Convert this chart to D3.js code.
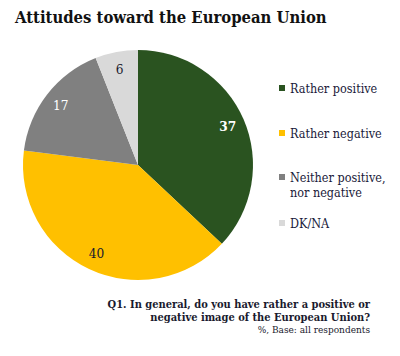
<!DOCTYPE html>
<html><head><meta charset="utf-8">
<script src="https://cdn.jsdelivr.net/npm/d3@7"></script>
<style>body{margin:0;background:#fff}svg{display:block}</style>
</head><body>
<script>
const categories = ["Rather positive", "Rather negative", "Neither positive, nor negative", "DK/NA"];
const values = [37, 40, 17, 6];
const colors = ["#2a5320", "#ffc000", "#808080", "#d9d9d9"];
const labelColors = ["#ffffff", "#1a1a2e", "#ffffff", "#1a1a2e"];
const legendLines = [["Rather positive"], ["Rather negative"], ["Neither positive,", "nor negative"], ["DK/NA"]];
const title = "Attitudes toward the European Union";
const footnote = ["Q1. In general, do you have rather a positive or", "negative image of the European Union?", "%, Base: all respondents"];

const W = 400, H = 356;
const serif = "'DejaVu Serif Condensed', 'DejaVu Serif', 'Liberation Serif', Georgia, serif";
const svg = d3.select("body").append("svg").attr("width", W).attr("height", H);

svg.append("text").attr("x", 15).attr("y", 23).text(title)
  .attr("font-family", serif).attr("font-stretch", "condensed").attr("font-weight", "bold").attr("font-size", 16.5).attr("fill", "#111");

const cx = 138, cy = 165, r = 115;
const pie = d3.pie().sort(null).value(d => d)(values);
const arc = d3.arc().innerRadius(0).outerRadius(r);
const labelArc = d3.arc().innerRadius(r * 0.85).outerRadius(r * 0.85);
const g = svg.append("g").attr("transform", `translate(${cx},${cy})`);
g.selectAll("path").data(pie).join("path").attr("d", arc).attr("fill", (d, i) => colors[i]);
g.selectAll("text").data(pie).join("text")
  .attr("transform", d => `translate(${labelArc.centroid(d)})`)
  .attr("text-anchor", "middle").attr("dy", "0.35em")
  .attr("font-family", serif).attr("font-stretch", "condensed").attr("font-size", 13.5)
  .attr("font-weight", (d, i) => i === 0 ? "bold" : "normal")
  .attr("fill", (d, i) => labelColors[i]).text(d => d.data);

const ys = [88, 133, 177, 223];
const lg = svg.append("g");
categories.forEach((c, i) => {
  lg.append("rect").attr("x", 279).attr("y", ys[i] - 3).attr("width", 6).attr("height", 6).attr("fill", colors[i]);
  legendLines[i].forEach((t, j) => {
    lg.append("text").attr("x", 290).attr("y", ys[i] + 4.5 + j * 15).text(t)
      .attr("font-family", serif).attr("font-stretch", "condensed").attr("font-size", 12.5).attr("fill", "#1a1a3a");
  });
});

const fy = [308, 321, 333];
footnote.forEach((t, i) => {
  svg.append("text").attr("x", 370).attr("y", fy[i]).attr("text-anchor", "end").text(t)
    .attr("font-family", serif).attr("font-stretch", "condensed").attr("font-size", i < 2 ? 11 : 10)
    .attr("font-weight", i < 2 ? "bold" : "normal").attr("fill", "#1a1a2e");
});
</script>
</body></html>
